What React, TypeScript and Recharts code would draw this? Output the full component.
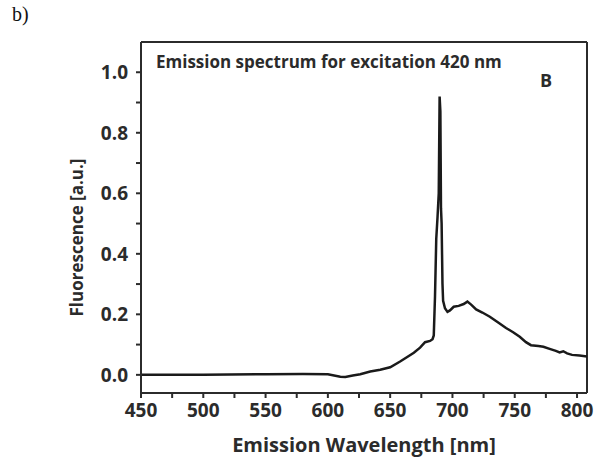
import React from "react";
import { LineChart, Line, XAxis, YAxis, ReferenceLine, Label } from "recharts";

// emission spectrum, excitation at 420 nm
const wavelength = [
  450, 500, 550, 580, 600, 610, 614, 620, 626, 634, 642, 650, 658, 664, 669, 674,
  678, 682, 684, 685, 686, 687, 688, 689, 689.7, 690.3, 690.8, 691.3, 692, 692.5,
  694, 696, 698, 701, 705, 709, 712, 715, 719, 724, 730, 737, 743, 749, 754, 759,
  763, 769, 773, 778, 783, 786, 789, 792, 796, 802, 808,
];
const fluorescence = [
  0, 0, 0.002, 0.003, 0.002, -0.006, -0.007, -0.002, 0.002, 0.011, 0.017, 0.025,
  0.044, 0.06, 0.073, 0.09, 0.108, 0.112, 0.118, 0.13, 0.26, 0.45, 0.52, 0.6, 0.92,
  0.87, 0.55, 0.5, 0.3, 0.245, 0.22, 0.208, 0.213, 0.225, 0.228, 0.234, 0.242,
  0.232, 0.216, 0.206, 0.192, 0.172, 0.155, 0.14, 0.126, 0.108, 0.098, 0.095,
  0.093, 0.086, 0.079, 0.074, 0.078, 0.071, 0.066, 0.064, 0.061,
];

const xTicks = [450, 475, 500, 525, 550, 575, 600, 625, 650, 675, 700, 725, 750, 775, 800];
const xLabels = ["450", "", "500", "", "550", "", "600", "", "650", "", "700", "", "750", "", "800"];
const yTicks = [0, 0.1, 0.2, 0.3, 0.4, 0.5, 0.6, 0.7, 0.8, 0.9, 1.0];
const yLabels = ["0.0", "", "0.2", "", "0.4", "", "0.6", "", "0.8", "", "1.0"];

const X_MIN = 450;
const X_MAX = 808;
const Y_MIN = -0.06;
const Y_MAX = 1.1;

const data = wavelength.map((w, i) => ({ w, f: fluorescence[i] }));

const FONT = "'Open Sans', sans-serif";
const INK = "#2b2b2b";
const tickStyle = { fontSize: 19, fontWeight: 700, fill: INK, fontFamily: FONT };

export default function App() {
  return (
    <div style={{ position: "absolute", left: 0, top: 0, width: 604, height: 463, background: "#fff" }}>
      <div style={{ position: "absolute", left: 12, top: 3, fontFamily: "'Liberation Serif', serif", fontSize: 20, color: "#111" }}>
        b)
      </div>
      <LineChart
        width={604}
        height={463}
        data={data}
        margin={{ top: 42, right: 17, bottom: 8, left: 13 }}
      >
        <XAxis
          dataKey="w"
          type="number"
          domain={[X_MIN, X_MAX]}
          ticks={xTicks}
          tickFormatter={(v: number) => xLabels[xTicks.indexOf(v)] ?? ""}
          allowDataOverflow
          interval={0}
          height={62}
          tickSize={5}
          tickMargin={6}
          tick={tickStyle}
          axisLine={{ stroke: INK, strokeWidth: 2 }}
          tickLine={{ stroke: INK, strokeWidth: 2 }}
        >
          <Label
            value="Emission Wavelength [nm]"
            position="insideBottom"
            offset={3}
            style={{ fontSize: 20, fontWeight: 700, fill: INK, fontFamily: FONT }}
          />
        </XAxis>
        <YAxis
          type="number"
          domain={[Y_MIN, Y_MAX]}
          ticks={yTicks}
          tickFormatter={(v: number) => yLabels[yTicks.indexOf(v)] ?? ""}
          allowDataOverflow
          interval={0}
          width={128}
          tickSize={5}
          tickMargin={8}
          tick={tickStyle}
          axisLine={{ stroke: INK, strokeWidth: 2 }}
          tickLine={{ stroke: INK, strokeWidth: 2 }}
        >
          <Label
            value="Fluorescence [a.u.]"
            position="center"
            angle={-90}
            dy={20}
            style={{ fontSize: 17, fontWeight: 700, fill: INK, fontFamily: FONT, textAnchor: "middle" }}
          />
        </YAxis>
        {/* top and right edges of the frame */}
        <ReferenceLine y={Y_MAX} stroke={INK} strokeWidth={2} />
        <ReferenceLine x={X_MAX} stroke={INK} strokeWidth={2} />
        <Line
          type="linear"
          dataKey="f"
          stroke="#1a1a1a"
          strokeWidth={2.5}
          dot={false}
          isAnimationActive={false}
        />
      </LineChart>
      <div
        style={{
          position: "absolute",
          left: 156,
          top: 50,
          fontFamily: FONT,
          fontWeight: 700,
          fontSize: 17,
          color: INK,
          whiteSpace: "nowrap",
        }}
      >
        Emission spectrum for excitation 420 nm
      </div>
      <div
        style={{
          position: "absolute",
          left: 540,
          top: 68,
          fontFamily: FONT,
          fontWeight: 700,
          fontSize: 18,
          color: INK,
        }}
      >
        B
      </div>
    </div>
  );
}
